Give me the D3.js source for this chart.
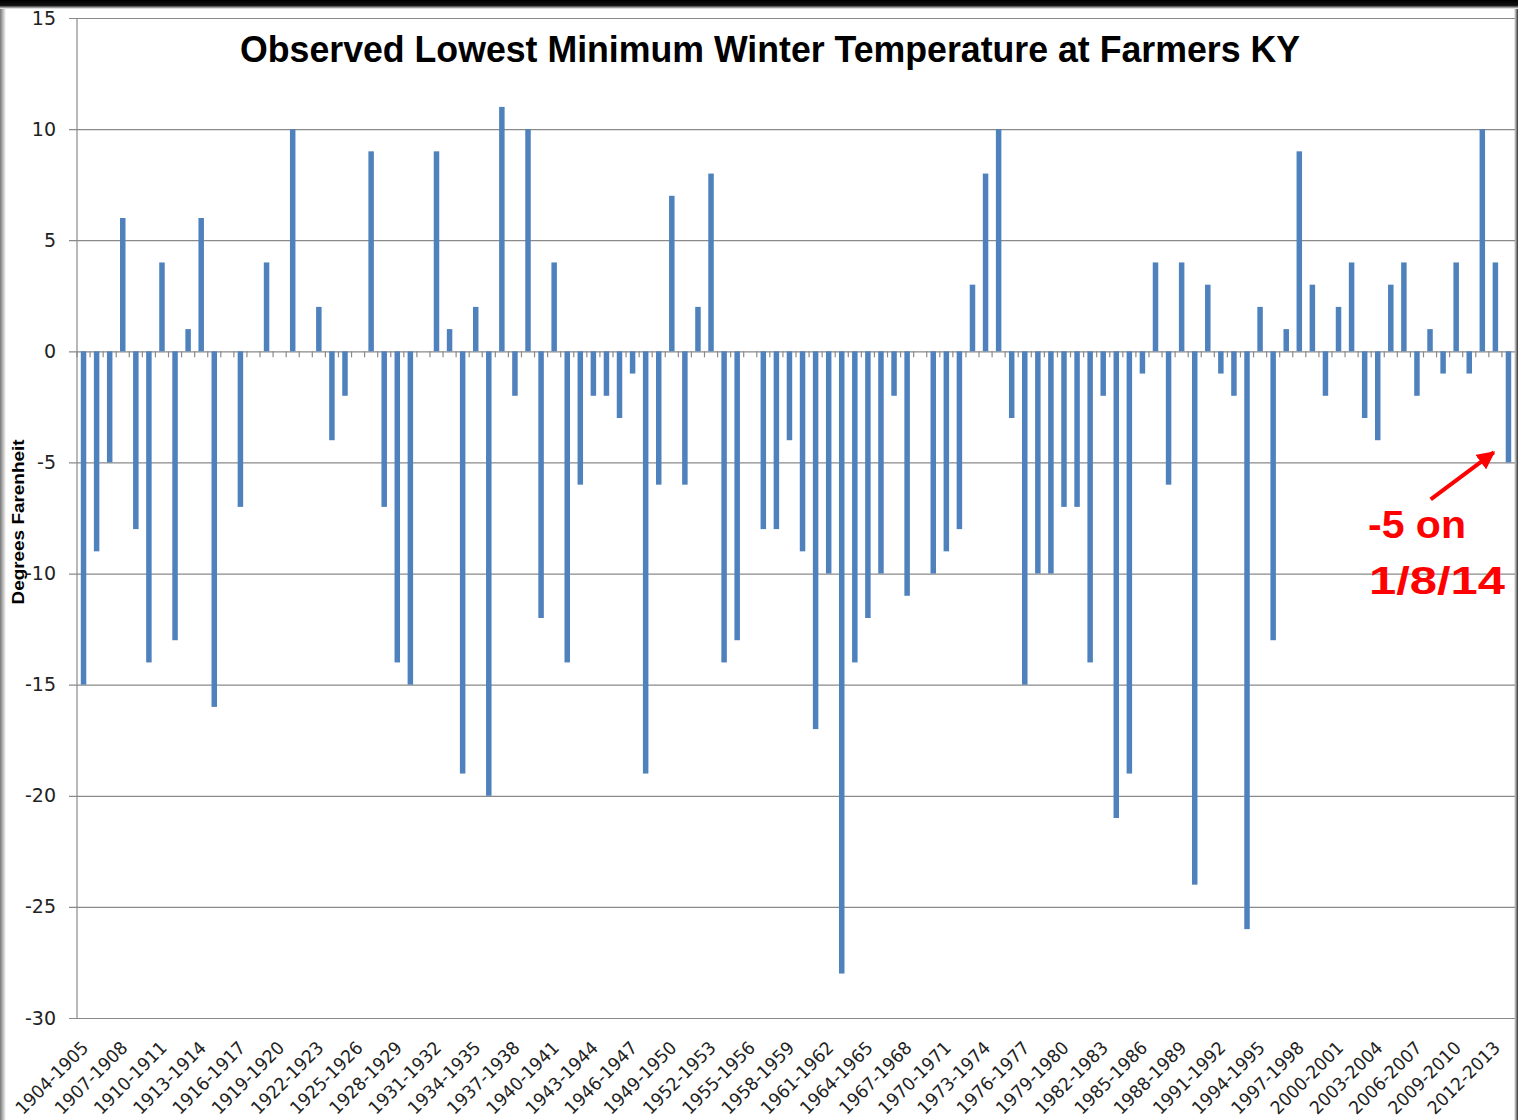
<!DOCTYPE html>
<html>
<head>
<meta charset="utf-8">
<script src="https://cdn.jsdelivr.net/npm/d3@7"></script>
<style>
  body { margin: 0; background: #ffffff; }
  svg { display: block; }
</style>
</head>
<body>
<div id="chart"></div>
<script>
"use strict"

/* data: one value per winter, 1904-1905 .. 2013-2014 */
const startYears = d3.range(1904, 2014);
const winters = startYears.map(y => y + "-" + (y + 1));

const lowestMin = [
    -15, -9, -5, 6, -8, -14, 4, -13, 1, 6,      // 1904-1913
    -16, 0, -7, 0, 4, 0, 10, 0, 2, -4,          // 1914-1923
    -2, 0, 9, -7, -14, -15, 0, 9, 1, -19,       // 1924-1933
    2, -20, 11, -2, 10, -12, 4, -14, -6, -2,    // 1934-1943
    -2, -3, -1, -19, -6, 7, -6, 2, 8, -14,      // 1944-1953
    -13, 0, -8, -8, -4, -9, -17, -10, -28, -14, // 1954-1963
    -12, -10, -2, -11, 0, -10, -9, -8, 3, 8,    // 1964-1973
    10, -3, -15, -10, -10, -7, -7, -14, -2, -21, // 1974-1983
    -19, -1, 4, -6, 4, -24, 3, -1, -2, -26,     // 1984-1993
    2, -13, 1, 9, 3, -2, 2, 4, -3, -4,          // 1994-2003
    3, 4, -2, 1, -1, 4, -1, 10, 4, -5           // 2004-2013
];

const yTicks = [15, 10, 5, 0, -5, -10, -15, -20, -25, -30];
const labelEvery = 3;

const titleText = "Observed Lowest Minimum Winter Temperature at Farmers KY";
const yTitle = "Degrees Farenheit";
const noteLines = ["-5 on", "1/8/14"];

/* canvas */
const W = 1518, H = 1120;
const plotLeft = 77, plotRight = 1515, plotTop = 18, plotBottom = 1018;

let drawing = d3.select("#chart")
    .append("svg")
    .attr("width", W)
    .attr("height", H);

let defs = drawing.append("defs");

let topShade = defs.append("linearGradient")
    .attr("id", "topShade")
    .attr("x1", 0).attr("y1", 0).attr("x2", 0).attr("y2", 1);
topShade.append("stop").attr("offset", "0%").attr("stop-color", "#000000");
topShade.append("stop").attr("offset", "60%").attr("stop-color", "#111111");
topShade.append("stop").attr("offset", "100%").attr("stop-color", "#ffffff");

let sideShade = defs.append("linearGradient")
    .attr("id", "sideShade")
    .attr("x1", 0).attr("y1", 0).attr("x2", 1).attr("y2", 0);
sideShade.append("stop").attr("offset", "0%").attr("stop-color", "#777777");
sideShade.append("stop").attr("offset", "100%").attr("stop-color", "#ffffff");

let rightShade = defs.append("linearGradient")
    .attr("id", "rightShade")
    .attr("x1", 0).attr("y1", 0).attr("x2", 1).attr("y2", 0);
rightShade.append("stop").attr("offset", "0%").attr("stop-color", "#ffffff");
rightShade.append("stop").attr("offset", "100%").attr("stop-color", "#333333");

defs.append("marker")
    .attr("id", "arrowHead")
    .attr("viewBox", "0 0 10 10")
    .attr("refX", 9)
    .attr("refY", 5)
    .attr("markerWidth", 4.5)
    .attr("markerHeight", 4.5)
    .attr("orient", "auto")
    .append("path")
    .attr("d", "M0,0 L10,5 L0,10 Z")
    .attr("fill", "#ff0000");

drawing.append("rect")
    .attr("width", W).attr("height", H)
    .attr("fill", "#ffffff");

/* frame shadows of the screenshot */
drawing.append("rect").attr("x", 0).attr("y", 0).attr("width", 6).attr("height", H).attr("fill", "url(#sideShade)");
drawing.append("rect").attr("x", W - 4).attr("y", 0).attr("width", 4).attr("height", H).attr("fill", "url(#rightShade)");
drawing.append("rect").attr("x", 0).attr("y", 0).attr("width", W).attr("height", 9).attr("fill", "url(#topShade)");

/* scales */
let x = d3.scaleBand()
    .domain(winters)
    .range([plotLeft, plotRight])
    .paddingInner(0.58)
    .paddingOuter(0.29);

let y = d3.scaleLinear()
    .domain([-30, 15])
    .range([plotBottom, plotTop]);

/* gridlines + y axis */
let yAxis = d3.axisLeft(y)
    .tickValues(yTicks)
    .tickSize(-(plotRight - plotLeft))
    .tickPadding(12)
    .tickFormat(d => String(d));

let yG = drawing.append("g")
    .attr("transform", "translate(" + plotLeft + ",0)")
    .call(yAxis);
yG.select(".domain").remove();
yG.selectAll(".tick line")
    .attr("x1", -8)
    .attr("stroke", "#8a8a8a")
    .attr("stroke-width", 1.2);
yG.selectAll(".tick text")
    .attr("x", -21)
    .attr("font-family", "DejaVu Sans, sans-serif")
    .attr("font-size", 19)
    .attr("fill", "#222222");

drawing.append("line")
    .attr("x1", plotLeft).attr("x2", plotLeft)
    .attr("y1", plotTop).attr("y2", plotBottom)
    .attr("stroke", "#8a8a8a")
    .attr("stroke-width", 1.2);

/* bars */
drawing.append("g")
    .selectAll("rect")
    .data(lowestMin)
    .join("rect")
    .attr("x", (d, i) => x(winters[i]))
    .attr("width", x.bandwidth())
    .attr("y", d => y(Math.max(0, d)))
    .attr("height", d => Math.abs(y(d) - y(0)))
    .attr("fill", "#4f81bd");

/* category axis on the zero line, with small ticks at the boundaries */
let step = x.step();
drawing.append("g")
    .selectAll("line")
    .data(winters)
    .join("line")
    .attr("x1", (d) => x(d) + x.bandwidth() / 2 - step / 2)
    .attr("x2", (d) => x(d) + x.bandwidth() / 2 - step / 2)
    .attr("y1", y(0))
    .attr("y2", y(0) + 6)
    .attr("stroke", "#8a8a8a")
    .attr("stroke-width", 1.2);

/* x labels, at the bottom of the plot */
drawing.append("g")
    .selectAll("text")
    .data(winters.filter((d, i) => i % labelEvery === 0))
    .join("text")
    .attr("transform", d => "translate(" + (x(d) + x.bandwidth() / 2 + 6) + "," + (plotBottom + 31) + ") rotate(-45)")
    .attr("text-anchor", "end")
    .attr("font-family", "DejaVu Sans, sans-serif")
    .attr("font-size", 18)
    .attr("textLength", 94)
    .attr("lengthAdjust", "spacingAndGlyphs")
    .attr("fill", "#222222")
    .text(d => d);

/* title */
drawing.append("text")
    .attr("x", 770)
    .attr("y", 62)
    .attr("text-anchor", "middle")
    .attr("font-family", "Liberation Sans, Arial, sans-serif")
    .attr("font-weight", "bold")
    .attr("font-size", 37)
    .attr("textLength", 1060)
    .attr("lengthAdjust", "spacingAndGlyphs")
    .attr("fill", "#000000")
    .text(titleText);

/* y title */
drawing.append("text")
    .attr("transform", "translate(24,522) rotate(-90)")
    .attr("text-anchor", "middle")
    .attr("font-family", "Liberation Sans, Arial, sans-serif")
    .attr("font-weight", "bold")
    .attr("font-size", 16)
    .attr("textLength", 165)
    .attr("lengthAdjust", "spacingAndGlyphs")
    .attr("fill", "#000000")
    .text(yTitle);

/* annotation for the last winter */
let lastWinter = winters[winters.length - 1];
let lastValue = lowestMin[lowestMin.length - 1];
let tipX = x(lastWinter) - 12;
let tipY = y(lastValue) - 10;

drawing.append("line")
    .attr("x1", tipX - 63)
    .attr("y1", tipY + 47)
    .attr("x2", tipX)
    .attr("y2", tipY)
    .attr("stroke", "#ff0000")
    .attr("stroke-width", 4)
    .attr("marker-end", "url(#arrowHead)");

drawing.append("text")
    .attr("x", 1368)
    .attr("y", 538)
    .attr("font-family", "Liberation Sans, Arial, sans-serif")
    .attr("font-weight", "bold")
    .attr("font-size", 38)
    .attr("textLength", 98)
    .attr("lengthAdjust", "spacingAndGlyphs")
    .attr("fill", "#ff0000")
    .text(noteLines[0]);

drawing.append("text")
    .attr("x", 1369)
    .attr("y", 594)
    .attr("font-family", "Liberation Sans, Arial, sans-serif")
    .attr("font-weight", "bold")
    .attr("font-size", 38)
    .attr("textLength", 136)
    .attr("lengthAdjust", "spacingAndGlyphs")
    .attr("fill", "#ff0000")
    .text(noteLines[1]);
</script>
</body>
</html>
